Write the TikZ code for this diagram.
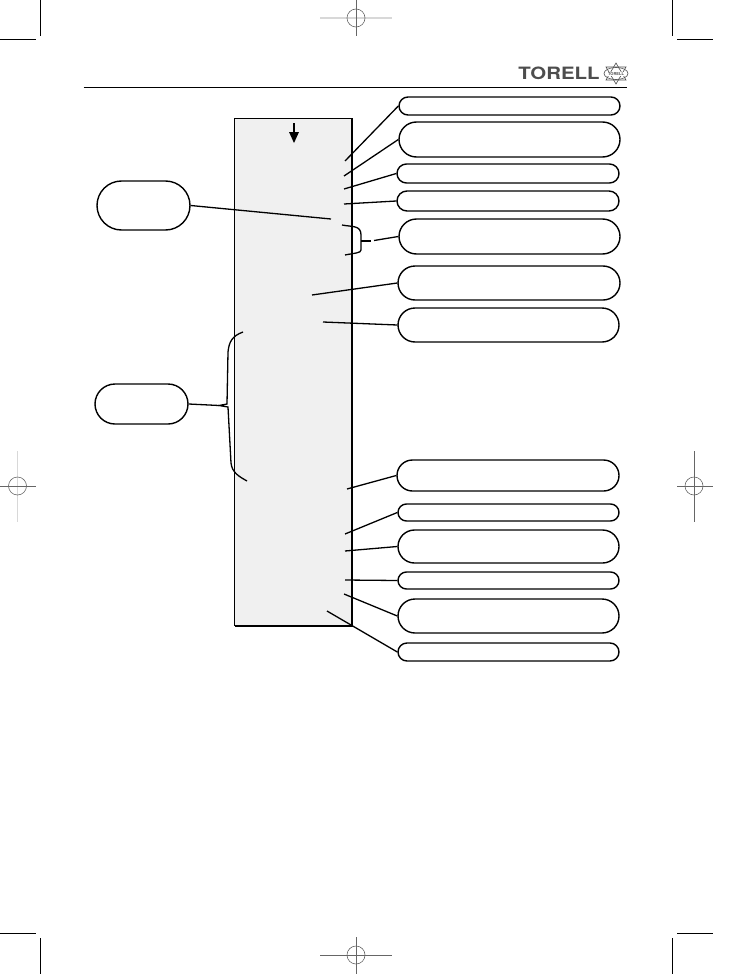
\documentclass[tikz,border=0pt]{standalone}
\usepackage{fontspec}
\setsansfont{TeX Gyre Heros}
\usetikzlibrary{shapes.misc}
\definecolor{panelgray}{HTML}{F0F0F0}
\definecolor{logogray}{HTML}{4D4D4D}
\definecolor{reglight}{HTML}{D8D8D8}
\begin{document}
\begin{tikzpicture}[x=1pt,y=-1pt]
		\tikzset{box/.style = {draw, rounded rectangle, line width=1.4pt, inner sep=0pt, fill=white}}
		\tikzset{edge/.style = {line width=1.3pt}}
		\tikzset{crop/.style = {line width=1pt}}
		\tikzset{reg/.style = {line width=.6pt, black!60}}
		\tikzset{regwide/.style = {line width=1.6pt, reglight}}
		
		\useasboundingbox (0,0) rectangle (740,974);
		
		% crop marks
		\draw[crop] (40,0) -- (40,36);
		\draw[crop] (0,40) -- (36,40);
		\draw[crop] (672.5,0) -- (672.5,36);
		\draw[crop] (677,40) -- (713,40);
		\draw[crop] (40,938) -- (40,974);
		\draw[crop] (0,933) -- (36,933);
		\draw[crop] (672.5,938) -- (672.5,974);
		\draw[crop] (677,933) -- (713,933);
		
		% registration marks
		\draw[regwide] (320,18) -- (392,18);
		\draw[reg] (356,0) -- (356,36);
		\draw[reg] (356,18) circle (9);
		\draw[reg] (320,955) -- (392,955);
		\draw[reg] (356,937) -- (356,974);
		\draw[reg] (356,955) circle (9);
		\draw[regwide] (17.5,451) -- (17.5,522);
		\draw[reg] (0,486) -- (36,486);
		\draw[reg] (17.5,486) circle (9);
		\draw[reg] (694,451) -- (694,522);
		\draw[reg] (677,486) -- (713,486);
		\draw[reg] (694,486) circle (9);
		
		% header
		\node[font=\sffamily\bfseries\fontsize{17}{17}\selectfont, text=logogray, inner sep=0pt] (logo) at (559,73.5) {\scalebox{1.2}[1]{TORELL}};
		\draw[logogray, line width=.6pt] (616,73.5) ellipse (12 and 6);
		\draw[logogray, line width=.6pt] (616,63) -- (626,80) -- (606,80) -- cycle;
		\draw[logogray, line width=.6pt] (616,84) -- (626,67) -- (606,67) -- cycle;
		\node[font=\sffamily\bfseries\fontsize{4}{4}\selectfont, text=logogray, fill=white, inner sep=.3pt] (emblem) at (616,74) {TORELL};
		\node[inner sep=0pt] (ruleleft) at (83,87) {};
		\node[inner sep=0pt] (ruleright) at (628,87) {};
		\draw[line width=.9pt] (ruleleft) -- (ruleright);
		
		% panel
		\fill[panelgray] (234.5,118) rectangle (352,626);
		\draw[line width=1pt] (352,118) -- (234.5,118) -- (234.5,626);
		\draw[line width=2pt] (352,118) -- (352,626) -- (234.5,626);
		
		\coordinate (arrowtop) at (294,123);
		\fill (294,143) -- (289,132) -- (299,132) -- cycle;
		\draw[line width=1.4pt] (arrowtop) -- (294,133);
		
		% boxes
		\node[box, minimum width=221pt, minimum height=18pt] (b1) at (509.5,106) {};
		\node[box, minimum width=221pt, minimum height=35pt] (b2) at (509.5,139.5) {};
		\node[box, minimum width=222pt, minimum height=19pt] (b3) at (508,173.5) {};
		\node[box, minimum width=222pt, minimum height=20pt] (b4) at (508,201) {};
		\node[box, minimum width=221pt, minimum height=35pt] (b5) at (509.5,236.5) {};
		\node[box, minimum width=222pt, minimum height=34pt] (b6) at (509,283) {};
		\node[box, minimum width=221pt, minimum height=34pt] (b7) at (508.5,325) {};
		\node[box, minimum width=222pt, minimum height=31pt] (b8) at (508,475.5) {};
		\node[box, minimum width=221pt, minimum height=17pt] (b9) at (508.5,512.5) {};
		\node[box, minimum width=221pt, minimum height=33pt] (b10) at (508.5,546.5) {};
		\node[box, minimum width=221pt, minimum height=17pt] (b11) at (508.5,580.5) {};
		\node[box, minimum width=221pt, minimum height=34pt] (b12) at (508.5,616) {};
		\node[box, minimum width=221pt, minimum height=18pt] (b13) at (508.5,652) {};
		\node[box, minimum width=93pt, minimum height=49pt] (l1) at (143.5,205.5) {};
		\node[box, minimum width=93pt, minimum height=40pt] (l2) at (141.5,404) {};
		
		% free ends of the connectors
		\coordinate (p1) at (345,161);
		\coordinate (p2) at (344,176);
		\coordinate (p3) at (344,189);
		\coordinate (p4) at (344,204);
		\coordinate (p5) at (331,219);
		\coordinate (p6) at (312,295);
		\coordinate (p7) at (323,322);
		\coordinate (p8) at (347,489);
		\coordinate (p9) at (345,534);
		\coordinate (p10) at (345,551);
		\coordinate (p11) at (345,580);
		\coordinate (p12) at (344,594);
		\coordinate (p13) at (327,611);
		\coordinate (tipright) at (374,240.5);
		\coordinate (tipleft) at (219,405.5);
		
		\draw[edge] (b1.west) to (p1);
		\draw[edge] (b2.west) to (p2);
		\draw[edge] (b3.west) to (p3);
		\draw[edge] (b4.west) to (p4);
		\draw[edge] (l1.east) to (p5);
		\draw[edge] (b5.west) to (tipright);
		\draw[edge] (b6.west) to (p6);
		\draw[edge] (b7.west) to (p7);
		\draw[edge] (b8.west) to (p8);
		\draw[edge] (b9.west) to (p9);
		\draw[edge] (b10.west) to (p10);
		\draw[edge] (b11.west) to (p11);
		\draw[edge] (b12.west) to (p12);
		\draw[edge] (b13.west) to (p13);
		\draw[edge] (l2.east) to (tipleft);
		
		% braces
		\draw[edge] (342,225) .. controls (352,227) and (361,225) .. (361,235)
			-- (361,250) .. controls (361,253) and (355,253) .. (345,255);
		\draw[edge] (361,241) -- (371,241);
		\draw[edge] (243,332) .. controls (232,336) and (229,342) .. (228,352)
			-- (227,404) -- (219,405.5) -- (228,407) -- (231,463)
			.. controls (232,473) and (240,477) .. (247,481);
\end{tikzpicture}
\end{document}
